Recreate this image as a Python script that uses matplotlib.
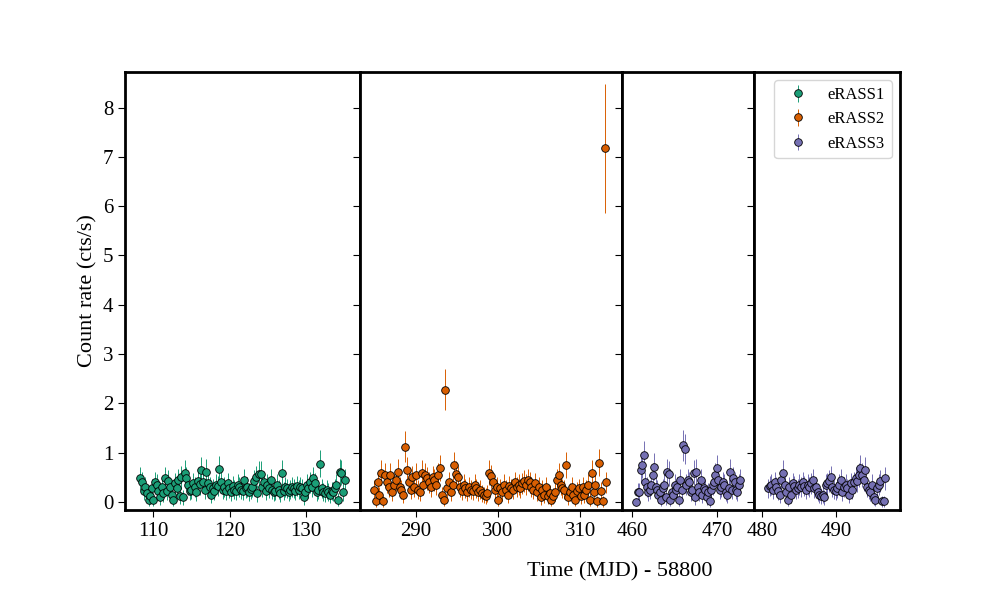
import matplotlib.pyplot as plt
import numpy as np

plt.rcParams["font.family"] = "Liberation Serif"
plt.rcParams["mathtext.fontset"] = "stix"

# count rates (cts/s)
rate1 = [0.48, 0.40, 0.22, 0.30, 0.18, 0.05, 0.12, 0.28, 0.05, 0.40, 0.35, 0.22, 0.10, 0.30,
         0.18, 0.48, 0.22, 0.42, 0.30, 0.15, 0.05, 0.38, 0.28, 0.44, 0.12, 0.50, 0.10, 0.60,
         0.48, 0.35, 0.22, 0.25, 0.38, 0.30, 0.20, 0.42, 0.36, 0.65, 0.40, 0.25, 0.62, 0.38,
         0.30, 0.15, 0.28, 0.22, 0.35, 0.32, 0.68, 0.40, 0.25, 0.30, 0.22, 0.38, 0.28, 0.20,
         0.32, 0.25, 0.22, 0.35, 0.30, 0.25, 0.22, 0.45, 0.28, 0.30, 0.20, 0.26, 0.30, 0.42,
         0.50, 0.18, 0.58, 0.58, 0.30, 0.40, 0.22, 0.35, 0.28, 0.45, 0.25, 0.20, 0.22, 0.35,
         0.25, 0.18, 0.60, 0.22, 0.30, 0.28, 0.20, 0.25, 0.30, 0.28, 0.22, 0.32, 0.25, 0.30,
         0.28, 0.10, 0.20, 0.35, 0.28, 0.40, 0.30, 0.48, 0.38, 0.20, 0.25, 0.78, 0.28, 0.20,
         0.18, 0.25, 0.20, 0.15, 0.22, 0.20, 0.28, 0.35, 0.05, 0.62, 0.60, 0.20, 0.45]
rate2 = [0.25, 0.02, 0.40, 0.15, 0.60, 0.02, 0.55, 0.40, 0.30, 0.55, 0.20, 0.35, 0.45, 0.62,
         0.30, 0.25, 0.15, 1.12, 0.65, 0.40, 0.25, 0.50, 0.30, 0.55, 0.25, 0.20, 0.60, 0.35,
         0.55, 0.48, 0.40, 0.30, 0.50, 0.45, 0.35, 0.55, 0.70, 0.15, 0.05, 2.28, 0.28, 0.40,
         0.20, 0.35, 0.75, 0.58, 0.50, 0.30, 0.22, 0.35, 0.28, 0.20, 0.30, 0.25, 0.22, 0.35,
         0.28, 0.20, 0.25, 0.18, 0.15, 0.12, 0.18, 0.60, 0.52, 0.40, 0.25, 0.30, 0.05, 0.28,
         0.20, 0.35, 0.25, 0.15, 0.32, 0.28, 0.25, 0.40, 0.30, 0.35, 0.28, 0.38, 0.42, 0.35,
         0.45, 0.40, 0.30, 0.25, 0.38, 0.20, 0.30, 0.10, 0.25, 0.15, 0.30, 0.12, 0.18, 0.05,
         0.12, 0.20, 0.45, 0.55, 0.35, 0.28, 0.25, 0.75, 0.10, 0.20, 0.30, 0.15, 0.05, 0.22,
         0.28, 0.12, 0.30, 0.15, 0.25, 0.35, 0.05, 0.60, 0.20, 0.35, 0.02, 0.80, 0.22, 0.02,
         7.17, 0.40]
rate3 = [0.00, 0.20, 0.20, 0.65, 0.75, 0.95, 0.40, 0.30, 0.20, 0.25, 0.35, 0.55, 0.72, 0.30,
         0.25, 0.15, 0.20, 0.05, 0.28, 0.35, 0.10, 0.62, 0.58, 0.05, 0.20, 0.15, 0.35, 0.25,
         0.30, 0.05, 0.45, 0.25, 1.15, 1.08, 0.35, 0.45, 0.40, 0.20, 0.25, 0.60, 0.10, 0.62,
         0.30, 0.20, 0.45, 0.15, 0.28, 0.25, 0.10, 0.20, 0.02, 0.25, 0.35, 0.40, 0.55, 0.70,
         0.45, 0.25, 0.30, 0.40, 0.35, 0.20, 0.15, 0.28, 0.62, 0.25, 0.48, 0.40, 0.25, 0.20,
         0.35, 0.45]
rate4 = [0.28, 0.32, 0.35, 0.25, 0.40, 0.30, 0.22, 0.15, 0.45, 0.60, 0.35, 0.20, 0.05, 0.30,
         0.15, 0.38, 0.32, 0.25, 0.28, 0.35, 0.30, 0.40, 0.32, 0.25, 0.35, 0.30, 0.38, 0.45,
         0.28, 0.30, 0.20, 0.15, 0.12, 0.15, 0.10, 0.35, 0.38, 0.42, 0.50, 0.30, 0.25, 0.22,
         0.28, 0.35, 0.45, 0.20, 0.30, 0.35, 0.28, 0.15, 0.38, 0.25, 0.40, 0.48, 0.42, 0.55,
         0.70, 0.55, 0.45, 0.65, 0.30, 0.25, 0.20, 0.35, 0.10, 0.05, 0.28, 0.35, 0.42, 0.02,
         0.02, 0.48]

# observation spans in MJD - 58800 (start, end)
span1 = (108.3, 135.1)
span2 = (284.9, 313.2)
span3 = (460.5, 472.7)
span4 = (480.8, 496.7)

xlims = [(106.3, 137.1), (283.2, 315.1), (458.8, 474.3), (478.9, 498.7)]
xticks = [[110, 120, 130], [290, 300, 310], [460, 470], [480, 490]]
colors = ["#1b9e77", "#d95f02", "#7570b3", "#7570b3"]

fig = plt.figure(figsize=(10, 6), dpi=100)
gs = fig.add_gridspec(1, 4, left=0.125, right=0.9, bottom=0.15, top=0.88,
                      wspace=0, width_ratios=[235, 262, 132, 146])
axes = [fig.add_subplot(gs[0, i]) for i in range(4)]

datasets = [(rate1, span1), (rate2, span2), (rate3, span3), (rate4, span4)]
labels = ["eRASS1", "eRASS2", "eRASS3", None]
handles = []
for i, (ax, (r, sp)) in enumerate(zip(axes, datasets)):
    r = np.array(r)
    t = np.linspace(sp[0], sp[1], len(r))
    err = 0.08 + 0.22 * np.sqrt(r)
    err[r > 5] = 1.3
    h = ax.errorbar(t, r, yerr=err, fmt="o", ms=5.5, mfc=colors[i], mec="black",
                    mew=0.6, ecolor=colors[i], elinewidth=0.7, label=labels[i])
    handles.append(h)
    ax.set_xlim(*xlims[i])
    ax.set_ylim(-0.16, 8.72)
    ax.set_xticks(xticks[i])
    ax.tick_params(labelsize=15, length=5)
    for s in ax.spines.values():
        s.set_linewidth(2)
    if i > 0:
        ax.tick_params(labelleft=False)

axes[0].set_ylabel("Count rate (cts/s)", fontsize=16)
fig.text(0.62, 0.04, "Time (MJD) - 58800", fontsize=16, ha="center")
axes[3].legend(handles[:3], labels[:3], loc="upper right", fontsize=12)

fig.savefig("out.png")
